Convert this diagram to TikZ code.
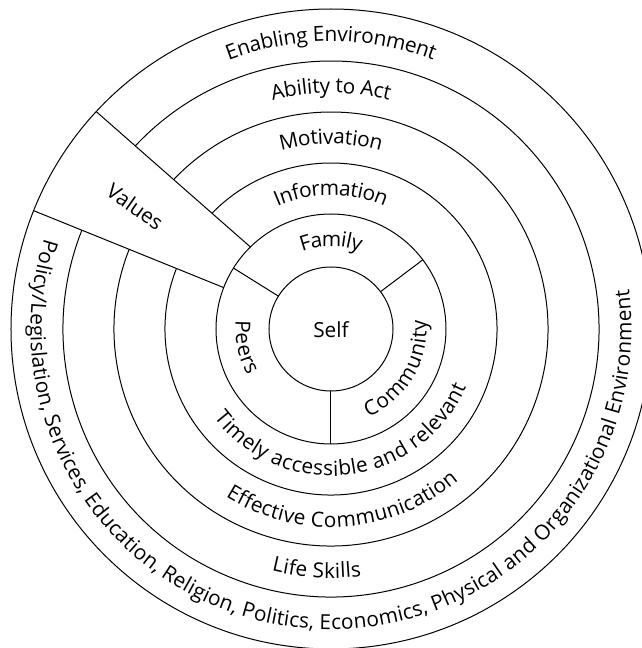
\documentclass[tikz,border=0pt]{standalone}
\usepackage{fontspec}
\setmainfont{Open Sans}
\usetikzlibrary{decorations.text}
\tikzset{
  ring/.style={line width=1pt},
  toptext/.style={decorate, decoration={text along path, text={#1}, text align=center, raise=-6.5pt}},
}
\begin{document}
\begin{tikzpicture}[x=1pt,y=1pt]
\fontsize{20.8}{24}\selectfont
\useasboundingbox (-331,-319) rectangle (311,329);
\clip (-331,-319) rectangle (311,329);
\coordinate (C) at (0,0);
% full circles
\draw[ring] (C) circle[radius=62];
\draw[ring] (C) circle[radius=115];
\draw[ring] (C) circle[radius=320];
% partial rings (interrupted by Values wedge)
\draw[ring] (158.6:166) arc[start angle=158.6, end angle=495.8, radius=166];
\draw[ring] (158.5:217) arc[start angle=158.5, end angle=496.45, radius=217];
\draw[ring] (158.4:268) arc[start angle=158.4, end angle=496.87, radius=268];
% Values wedge lines
\coordinate (v1i) at (134.5:115);
\coordinate (v1o) at (137.2:320);
\coordinate (v2i) at (158.9:115);
\coordinate (v2o) at (158.3:320);
\draw[ring] (v1i) -- (v1o);
\draw[ring] (v2i) -- (v2o);
% inner dividers
\coordinate (d1i) at (37:62);  \coordinate (d1o) at (37:115);
\coordinate (d2i) at (148:62); \coordinate (d2o) at (148:115);
\coordinate (d3i) at (270:62); \coordinate (d3o) at (270:115);
\draw[ring] (d1i) -- (d1o);
\draw[ring] (d2i) -- (d2o);
\draw[ring] (d3i) -- (d3o);
% texts
\node (self) at (0,-1) {Self};
\node[rotate=-35] (values) at (148:231) {Values};
% top texts (clockwise)
\path[toptext={Enabling Environment}] (160:294) arc[start angle=160, end angle=20, radius=294];
\path[toptext={Ability to Act}] (160:242.5) arc[start angle=160, end angle=20, radius=242.5];
\path[toptext={Motivation}] (160:191.5) arc[start angle=160, end angle=20, radius=191.5];
\path[toptext={Information}] (160:140.5) arc[start angle=160, end angle=20, radius=140.5];
\path[toptext={Family}] (150:89) arc[start angle=150, end angle=30, radius=89];
% bottom/side texts (counterclockwise)
\path[toptext={Peers}] (132:89) arc[start angle=132, end angle=252, radius=89];
\path[toptext={Community}] (-101:89) arc[start angle=-101, end angle=39, radius=89];
\path[toptext={Timely accessible and relevant}] (197:140.5) arc[start angle=197, end angle=357, radius=140.5];
\path[toptext={Effective Communication}] (194:191.5) arc[start angle=194, end angle=354, radius=191.5];
\path[toptext={Life Skills}] (206.6:242.5) arc[start angle=206.6, end angle=326.6, radius=242.5];
\path[toptext={Policy/Legislation, Services, Education, Religion, Politics, Economics, Physical and Organizational Environment}] (145:294) arc[start angle=145, end angle=385, radius=294];
\end{tikzpicture}
\end{document}
